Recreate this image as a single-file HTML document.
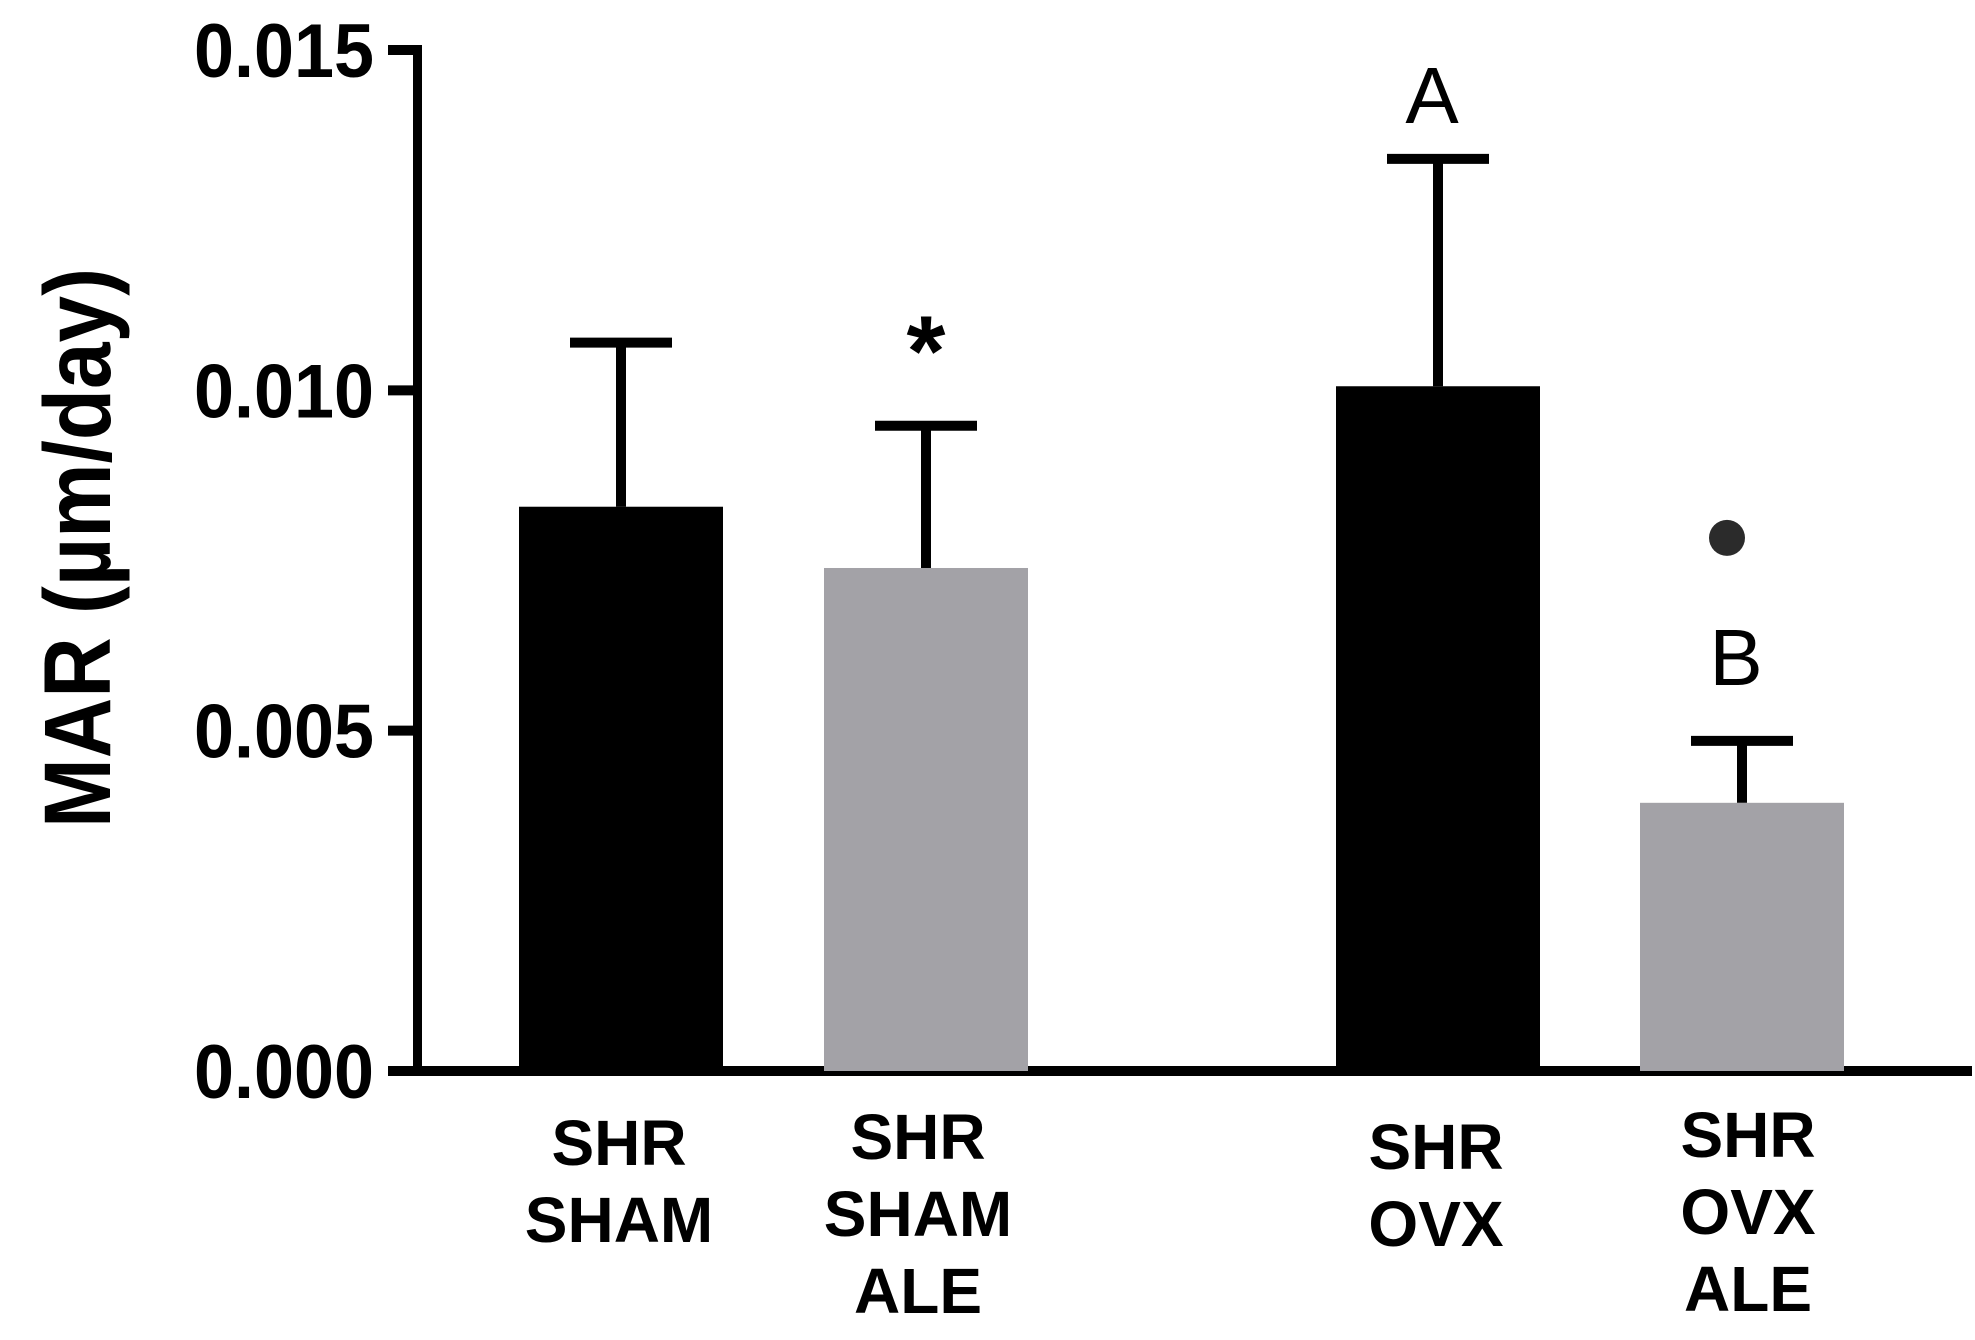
<!DOCTYPE html>
<html><head><meta charset="utf-8"><style>html,body{margin:0;padding:0;background:#fff}svg{display:block}</style></head>
<body>
<svg id="chart" width="1975" height="1340" viewBox="0 0 1975 1340" xmlns="http://www.w3.org/2000/svg" font-family="Liberation Sans, Arial, sans-serif">
<g id="axes"></g>
<g id="bars"></g>
<g id="labels"></g>
<text transform="translate(110,548) rotate(-90)" text-anchor="middle" font-size="95" font-weight="bold" textLength="560" lengthAdjust="spacingAndGlyphs">MAR (µm/day)</text>
</svg>
<script>
const categories = [["SHR","SHAM"],["SHR","SHAM","ALE"],["SHR","OVX"],["SHR","OVX","ALE"]];
const means = [0.00829, 0.00739, 0.01006, 0.00394];
const errors = [0.00241, 0.00209, 0.00334, 0.00091];
const colors = ["#000000","#a3a2a7","#000000","#a3a2a7"];
const tickValues = [0, 0.005, 0.010, 0.015];
const tickLabels = ["0.000","0.005","0.010","0.015"];
const marks = ["", "*", "A", "B"];

const NS = "http://www.w3.org/2000/svg";
const y0 = 1071, yTop = 50, yMax = 0.015;
function y(v){ return y0 - v/yMax*(y0-yTop); }
const barLeft = [519, 824, 1336, 1640];
const barW = 204;
const labelBase = [1165, 1159, 1169, 1157];
const labelShift = [-2, -8, -2, 6];
function mk(tag, attrs, parent){ const e=document.createElementNS(NS,tag); for(const k in attrs) e.setAttribute(k, attrs[k]); parent.appendChild(e); return e; }
const axes=document.getElementById('axes'), bars=document.getElementById('bars'), labels=document.getElementById('labels');

let ya = mk('line',{x1:417.5,y1:yTop-5,x2:417.5,y2:y0+5,stroke:'#000','stroke-width':9},axes);
 
let xa = mk('line',{x1:388,y1:y0,x2:1972,y2:y0,stroke:'#000','stroke-width':10},axes);
 
tickValues.forEach((v,i)=>{
  const t = mk('line',{x1:388,y1:y(v),x2:420,y2:y(v),stroke:'#000','stroke-width':10},axes);
   
  const tl = mk('text',{x:374,y:y(v)+27,'text-anchor':'end','font-size':76,'font-weight':'bold',textLength:180,lengthAdjust:'spacingAndGlyphs'},axes);
  tl.textContent = tickLabels[i];
   
});
means.forEach((m,i)=>{
  const cx = barLeft[i] + barW/2;
  const top = y(m+errors[i]);
  const el = mk('line',{x1:cx,y1:top,x2:cx,y2:y(m),stroke:'#000','stroke-width':10},bars);
   
  const cap = mk('line',{x1:cx-51,y1:top,x2:cx+51,y2:top,stroke:'#000','stroke-width':10},bars);
   
  const r = mk('rect',{x:barLeft[i],y:y(m),width:barW,height:y0-y(m),fill:colors[i]},bars);
   
  categories[i].forEach((line,j)=>{
    const t = mk('text',{x:cx+labelShift[i],y:labelBase[i]+j*77,'text-anchor':'middle','font-size':64,'font-weight':'bold'},labels);
    t.textContent = line;
     
  });
  if (marks[i]==="*"){
    const s = mk('text',{x:cx,y:top-40,'text-anchor':'middle','font-size':100,'font-weight':'bold'},labels);
    s.textContent='*';
     
  } else if (marks[i]){
    const s = mk('text',{x:cx-6,y:top-(i===2?36:56),'text-anchor':'middle','font-size':80},labels);
    s.textContent=marks[i];
     
  }
  if (i===3){
    const d = mk('circle',{cx:cx-15,cy:top-203,r:18,fill:'#2b2b2b'},labels);
     
  }
});
</script>
</body></html>
